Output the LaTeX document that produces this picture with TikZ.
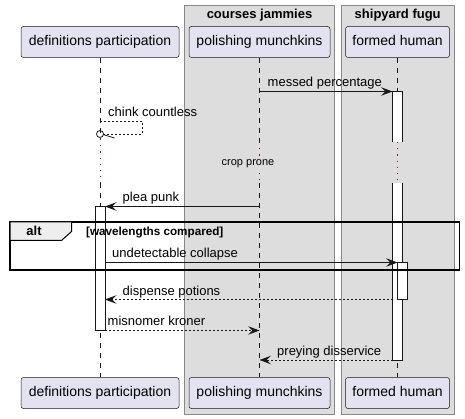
\documentclass[tikz,border=0pt]{standalone}
\usepackage{fontspec}
\setmainfont{Liberation Sans}
\usetikzlibrary{arrows.meta}
\definecolor{partfill}{RGB}{226,226,240}
\definecolor{ink}{RGB}{24,24,24}
\definecolor{grpfill}{RGB}{221,221,221}
\definecolor{grpdraw}{RGB}{136,136,136}
\definecolor{delayred}{RGB}{168,0,54}
\definecolor{tabfill}{RGB}{238,238,238}
\tikzset{
  participant/.style={draw=ink, fill=partfill, line width=0.5pt, rounded corners=2.5pt,
    minimum height=31pt, inner sep=0pt, font=\fontsize{14}{16}\selectfont,
    text height=10pt, text depth=3pt},
  groupbox/.style={draw=grpdraw, fill=grpfill, line width=0.7pt},
  grouptitle/.style={font=\bfseries\fontsize{13}{15}\selectfont, anchor=base, inner sep=0pt},
  lifeline/.style={draw=ink, line width=0.5pt, dash pattern=on 5pt off 5pt},
  delayline/.style={draw=delayred, line width=0.8pt, dash pattern=on 1.2pt off 5pt},
  actfill/.style={fill=white},
  actline/.style={draw=ink, line width=0.8pt},
  msg/.style={draw=ink, line width=0.8pt, -{Stealth[length=11.5pt,width=8.5pt,inset=4.5pt]}},
  reply/.style={msg, dash pattern=on 2pt off 2pt},
  replyline/.style={draw=ink, line width=0.8pt, dash pattern=on 2pt off 2pt},
  msglabel/.style={font=\fontsize{13}{15}\selectfont, anchor=base west, inner sep=0pt},
  framebox/.style={draw=black, line width=1.5pt},
  tabbox/.style={draw=black, fill=tabfill, line width=1pt},
}
\begin{document}
\begin{tikzpicture}[x=1pt,y=-1pt]
\useasboundingbox (0,0) rectangle (465,419);
% group boxes
\draw[groupbox] (184.5,5) rectangle (334.5,414);
\node[grouptitle] (g1) at (259.5,19) {courses jammies};
\draw[groupbox] (341,5) rectangle (454.5,414);
\node[grouptitle] (g2) at (397.7,19) {shipyard fugu};
% participants
\node[participant, minimum width=158pt] (topA) at (100,42) {definitions participation};
\node[participant, minimum width=141pt] (topB) at (259.5,42) {polishing munchkins};
\node[participant, minimum width=104pt] (topC) at (397.5,42) {formed human};
\node[participant, minimum width=158pt] (botA) at (100,393) {definitions participation};
\node[participant, minimum width=141pt] (botB) at (259.5,393) {polishing munchkins};
\node[participant, minimum width=104pt] (botC) at (397.5,393) {formed human};
% lifelines with delay
\coordinate (dA1) at (100,139); \coordinate (dA2) at (100,183);
\coordinate (dB1) at (259.5,142); \coordinate (dB2) at (259.5,183);
\coordinate (dC1) at (397.5,142); \coordinate (dC2) at (397.5,183);
\draw[lifeline] (topA.south) -- (dA1);
\draw[delayline] (dA1) -- (dA2);
\draw[lifeline] (dA2) -- (botA.north);
\draw[lifeline] (topB.south) -- (dB1);
\draw[delayline] (dB1) -- (dB2);
\draw[lifeline] (dB2) -- (botB.north);
\draw[lifeline] (topC.south) -- (dC1);
\draw[delayline] (dC1) -- (dC2);
\draw[lifeline] (dC2) -- (botC.north);
\node[font=\fontsize{11}{13}\selectfont, inner sep=1.5pt, fill=grpfill] (delay) at (248,164) {crop prone};
% activation bars
\fill[actfill] (392.5,91.5) rectangle (402.5,142);
\draw[actline] (392.5,142) -- (392.5,91.5) -- (402.5,91.5) -- (402.5,142);
\fill[actfill] (392.5,183) rectangle (402.5,360);
\draw[actline] (392.5,183) -- (392.5,360) -- (402.5,360) -- (402.5,183);
\draw[actline, actfill] (95,206.5) rectangle (105,330.5);
\draw[actline, actfill] (397.5,262.5) rectangle (407.5,299.5);
% messages
\coordinate (m1s) at (259.5,91.5); \coordinate (m1e) at (392.5,91.5);
\draw[msg] (m1s) -- (m1e);
\node[msglabel] (l1) at (267.5,86.5) {messed percentage};

\coordinate (s1) at (100,121.5); \coordinate (s2) at (142,121.5);
\coordinate (s3) at (142,134); \coordinate (s4) at (103.5,134);
\draw[replyline] (s1) -- (s2) -- (s3) -- (s4);
\coordinate (sc) at (100,134);
\draw[draw=ink, line width=0.8pt] (sc) circle (3.5pt);
\coordinate (h1) at (103,134.5); \coordinate (h2) at (114.5,138);
\draw[draw=ink, line width=0.8pt] (h1) -- (h2);
\node[msglabel] (l2) at (108,117) {chink countless};

\coordinate (m3s) at (259.5,206.5); \coordinate (m3e) at (105,206.5);
\draw[msg] (m3s) -- (m3e);
\node[msglabel] (l3) at (122.5,202) {plea punk};

\coordinate (m4s) at (105,262.5); \coordinate (m4e) at (397.5,262.5);
\draw[msg] (m4s) -- (m4e);
\node[msglabel] (l4) at (112,258) {undetectable collapse};

\coordinate (m5s) at (392.5,299.5); \coordinate (m5e) at (105,299.5);
\draw[reply] (m5s) -- (m5e);
\node[msglabel] (l5) at (122.5,295) {dispense potions};

\coordinate (m6s) at (105,330.5); \coordinate (m6e) at (259.5,330.5);
\draw[reply] (m6s) -- (m6e);
\node[msglabel] (l6) at (107.5,325.5) {misnomer kroner};

\coordinate (m7s) at (392.5,360); \coordinate (m7e) at (259.5,360);
\draw[reply] (m7s) -- (m7e);
\node[msglabel] (l7) at (277,355.5) {preying disservice};
% alt frame
\draw[framebox] (10,222) rectangle (459.5,270);
\draw[tabbox] (10,222) -- (71.5,222) -- (71.5,231.5) -- (61.5,240.5) -- (10,240.5) -- cycle;
\node[font=\bfseries\fontsize{13}{15}\selectfont, anchor=base, inner sep=0pt] (alt) at (34,235.5) {alt};
\node[font=\bfseries\fontsize{11.7}{13}\selectfont, anchor=base west, inner sep=0pt] (guard) at (86,235.5) {[wavelengths compared]};
\end{tikzpicture}
\end{document}
